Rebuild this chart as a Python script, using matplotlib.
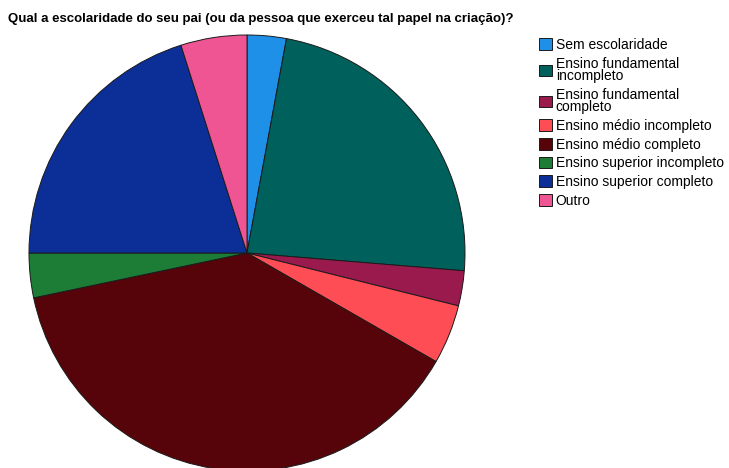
import matplotlib.pyplot as plt

# Data (shares, in %)
categories = [
    "Sem escolaridade",
    "Ensino fundamental\nincompleto",
    "Ensino fundamental\ncompleto",
    "Ensino médio incompleto",
    "Ensino médio completo",
    "Ensino superior incompleto",
    "Ensino superior completo",
    "Outro",
]
shares = [2.9, 23.4, 2.6, 4.4, 38.4, 3.3, 20.1, 4.9]
colors = ["#1e90e8", "#00605c", "#9b1a4e", "#ff4d55",
          "#560409", "#1d7d37", "#0b2e97", "#ef5592"]

plt.rcParams["font.family"] = ["Liberation Sans", "DejaVu Sans"]

fig = plt.figure(figsize=(7.29, 4.68), dpi=100)

# pie centre ~(247, 253) px, radius ~218 px
ax = fig.add_axes([29 / 729, (468 - 471) / 468, 436 / 729, 436 / 468])
wedges, _ = ax.pie(shares, colors=colors, startangle=90, counterclock=False,
                   radius=1.0,
                   wedgeprops=dict(edgecolor="#1a1a1a", linewidth=0.7))
ax.set_xlim(-1, 1)
ax.set_ylim(-1, 1)
ax.set_aspect("equal")
ax.axis("off")

fig.text(8 / 729, 1 - 19 / 468, "Qual a escolaridade do seu pai (ou da pessoa que exerceu tal papel na criação)?",
         fontsize=9.5, fontweight="bold", va="center", ha="left")

leg = fig.legend(wedges, categories, loc="upper left",
                 bbox_to_anchor=(539 / 729, 1 - 38 / 468),
                 frameon=False, fontsize=10, borderpad=0, borderaxespad=0,
                 handlelength=0.9, handleheight=0.9, handletextpad=0.3,
                 labelspacing=0.34)
for t in leg.get_texts():
    t.set_linespacing(0.85)

fig.savefig("out.png", dpi=100)
